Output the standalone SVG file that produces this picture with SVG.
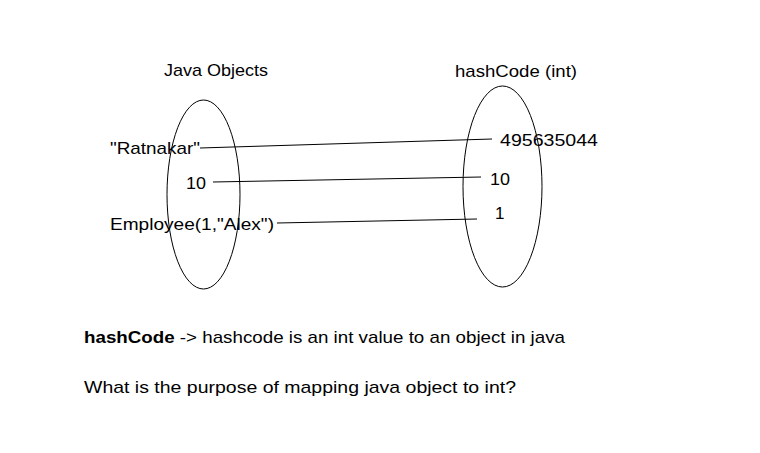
<svg xmlns="http://www.w3.org/2000/svg" width="760" height="453" viewBox="0 0 760 453">
<style>
text{font-family:"Liberation Sans","Open Sans",sans-serif;font-size:17px;fill:#000}
.e{fill:none;stroke:#000;stroke-width:1}
.c line{stroke:#000;stroke-width:1}
</style>
<rect width="760" height="453" fill="#fff"/>
<g id="left-set">
<ellipse class="e" cx="203.5" cy="194.5" rx="36.5" ry="94.5"/>
<text x="164" y="76" textLength="104" lengthAdjust="spacingAndGlyphs">Java Objects</text>
</g>
<g id="right-set">
<ellipse class="e" cx="502.5" cy="186.5" rx="39.5" ry="100.5"/>
<text x="455" y="77" textLength="122" lengthAdjust="spacingAndGlyphs">hashCode (int)</text>
</g>
<g id="obj-ratnakar"><text x="110" y="154" textLength="90" lengthAdjust="spacingAndGlyphs">"Ratnakar"</text></g>
<g id="obj-10"><text x="186" y="189" textLength="20" lengthAdjust="spacingAndGlyphs">10</text></g>
<g id="obj-employee"><text x="110" y="230" textLength="164" lengthAdjust="spacingAndGlyphs">Employee(1,"Alex")</text></g>
<g id="hash-495635044"><text x="500" y="146" textLength="98" lengthAdjust="spacingAndGlyphs">495635044</text></g>
<g id="hash-10"><text x="490" y="185" textLength="20" lengthAdjust="spacingAndGlyphs">10</text></g>
<g id="hash-1"><text x="495" y="219">1</text></g>
<g id="connectors" class="c">
<line x1="200" y1="148" x2="492" y2="139"/>
<line x1="213" y1="182" x2="481" y2="177"/>
<line x1="277" y1="223" x2="477" y2="219"/>
</g>
<g id="notes">
<text x="84" y="343" textLength="481" lengthAdjust="spacingAndGlyphs"><tspan font-weight="bold">hashCode</tspan> -&gt; hashcode is an int value to an object in java</text>
<text x="84" y="393" textLength="432" lengthAdjust="spacingAndGlyphs">What is the purpose of mapping java object to int?</text>
</g>
</svg>
